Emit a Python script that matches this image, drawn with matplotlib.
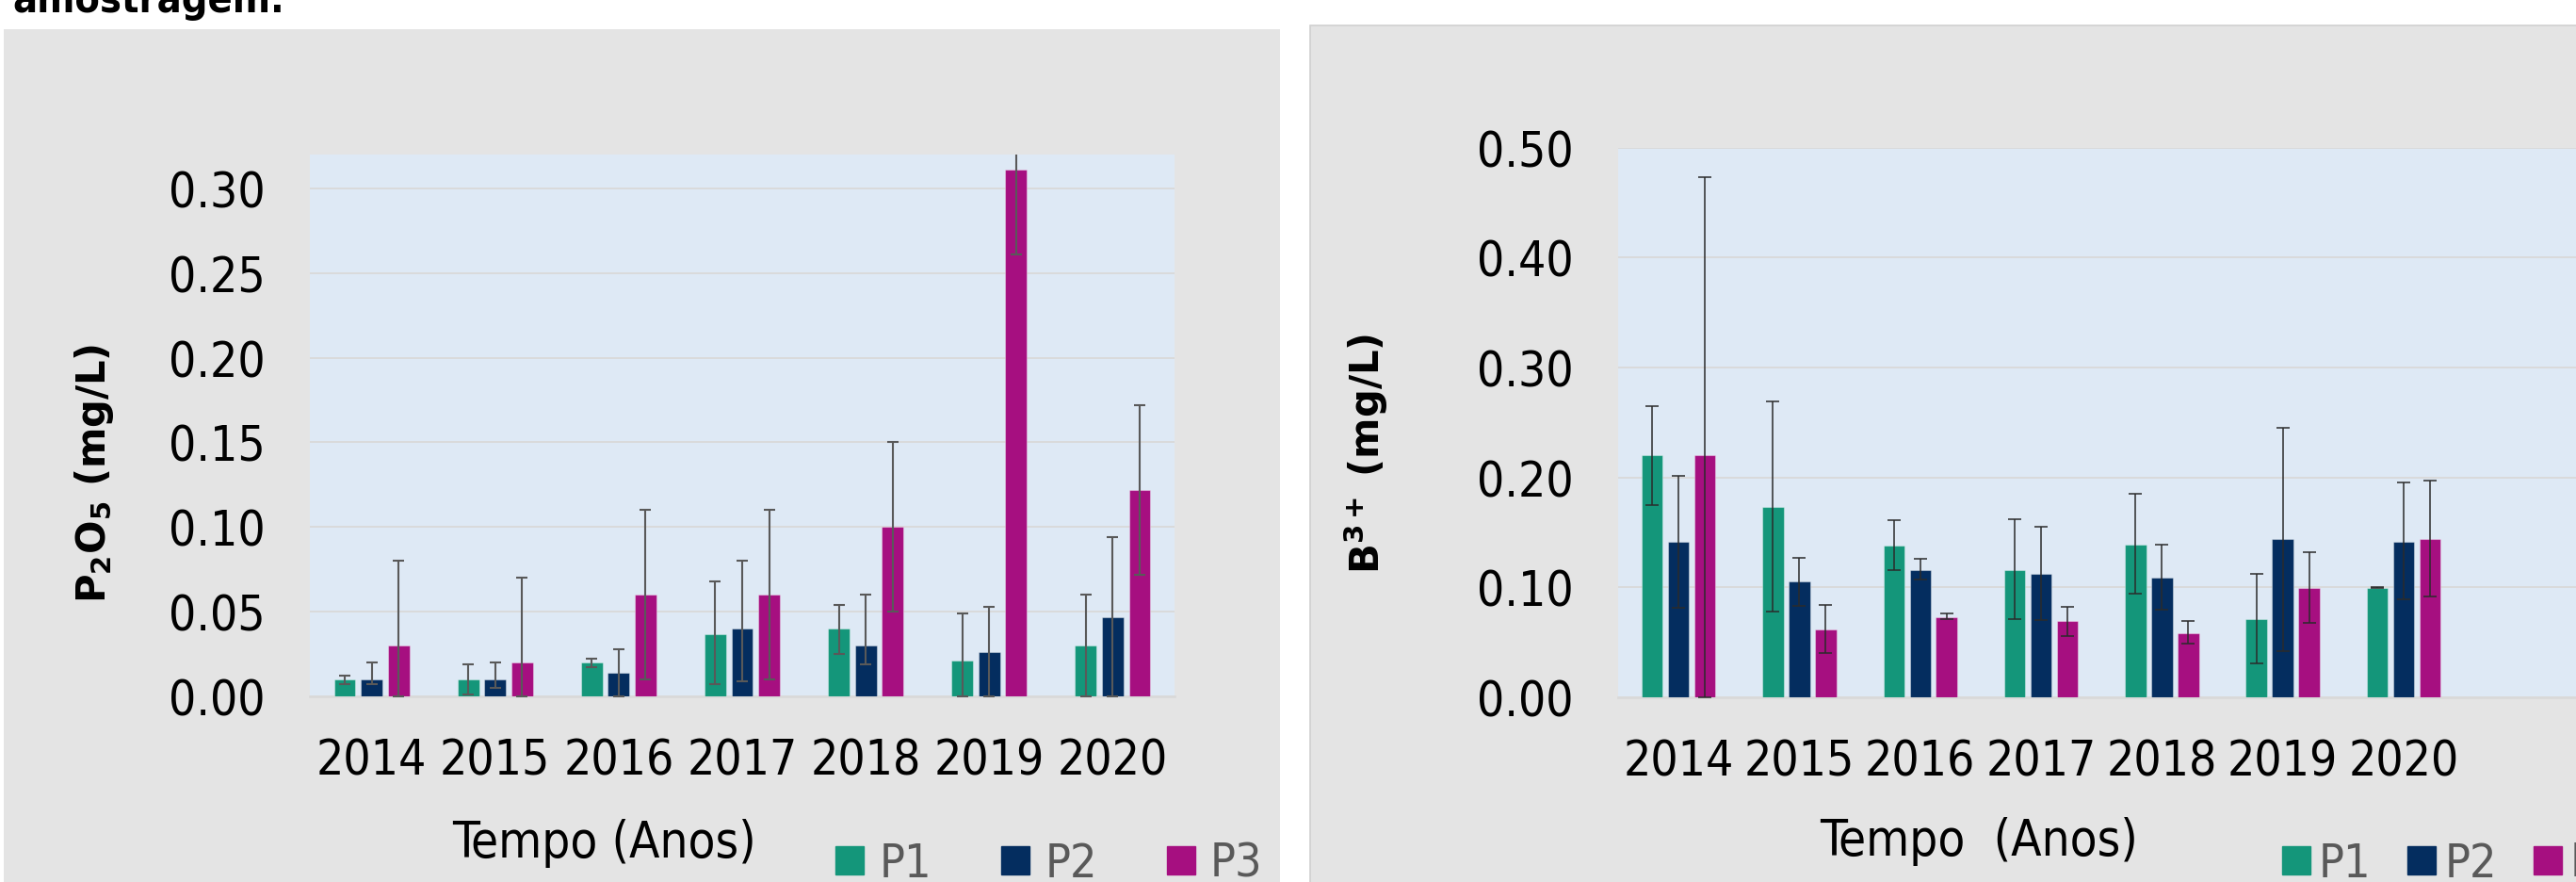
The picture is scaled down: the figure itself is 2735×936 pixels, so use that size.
import numpy as np
import matplotlib
matplotlib.use("Agg")
from matplotlib import pyplot as plt
from matplotlib import font_manager
from matplotlib.patches import Rectangle
from matplotlib.lines import Line2D

# ---- data ----
years = ['2014', '2015', '2016', '2017', '2018', '2019', '2020']
series = ['P1', 'P2', 'P3']

# P2O5 (mg/L): bar value, lower and upper end of the error bar
p2o5_p1 = [0.010, 0.010, 0.020, 0.037, 0.040, 0.021, 0.030]
p2o5_p2 = [0.010, 0.010, 0.014, 0.040, 0.030, 0.026, 0.047]
p2o5_p3 = [0.030, 0.020, 0.060, 0.060, 0.100, 0.311, 0.122]
p2o5_p1_lo = [0.007, 0.001, 0.017, 0.007, 0.025, 0.000, 0.000]
p2o5_p1_hi = [0.012, 0.019, 0.022, 0.068, 0.054, 0.049, 0.060]
p2o5_p2_lo = [0.007, 0.005, 0.000, 0.009, 0.019, 0.000, 0.000]
p2o5_p2_hi = [0.020, 0.020, 0.028, 0.080, 0.060, 0.053, 0.094]
p2o5_p3_lo = [0.000, 0.000, 0.010, 0.010, 0.050, 0.261, 0.072]
p2o5_p3_hi = [0.080, 0.070, 0.110, 0.110, 0.150, 0.361, 0.172]

# B3+ (mg/L)
b_p1 = [0.220, 0.173, 0.138, 0.116, 0.139, 0.071, 0.0995]
b_p2 = [0.141, 0.105, 0.116, 0.112, 0.109, 0.144, 0.141]
b_p3 = [0.220, 0.062, 0.073, 0.069, 0.058, 0.099, 0.144]
b_p1_lo = [0.175, 0.078, 0.116, 0.071, 0.094, 0.031, 0.099]
b_p1_hi = [0.265, 0.269, 0.161, 0.162, 0.185, 0.112, 0.100]
b_p2_lo = [0.081, 0.083, 0.107, 0.070, 0.080, 0.042, 0.089]
b_p2_hi = [0.201, 0.127, 0.126, 0.155, 0.139, 0.245, 0.195]
b_p3_lo = [0.000, 0.040, 0.071, 0.056, 0.049, 0.068, 0.092]
b_p3_hi = [0.473, 0.084, 0.076, 0.082, 0.069, 0.132, 0.197]

# ---- style ----
W, H = 2735, 937
colors = ['#14967A', '#042D5F', '#A60F80']
plot_bg = '#DEE9F5'
panel_bg = '#E4E4E4'
grid_c = '#D9D9D9'
legend_txt = '#595959'

plt.rcParams['font.family'] = 'DejaVu Sans'
plt.rcParams['mathtext.fontset'] = 'dejavusans'

# the reference uses a narrow geometric face; take a condensed DejaVu if one is installed
has_condensed = any('Condensed' in f.name or f.stretch in ('condensed', 'semi-condensed')
                    for f in font_manager.fontManager.ttflist if f.name.startswith('DejaVu Sans'))
narrow = dict(family='DejaVu Sans', stretch='condensed') if has_condensed else dict(family='DejaVu Sans')
k_size = 1.0 if has_condensed else 0.9


def narrow_font(size, weight='normal'):
    return font_manager.FontProperties(size=size * k_size, weight=weight, **narrow)


def fx(px):
    return px / W


def fy(py):
    return 1 - py / H


def px_axes(fig, left, top, right, bottom):
    return fig.add_axes([fx(left), fy(bottom), (right - left) / W, (bottom - top) / H])


def plot_bars(ax, vals, los, his, err_color, err_lw, capsize):
    x = np.arange(len(years))
    width, step = 0.175, 0.218
    for k, (v, lo, hi) in enumerate(zip(vals, los, his)):
        v = np.array(v)
        yerr = [np.clip(v - np.array(lo), 0, None), np.clip(np.array(hi) - v, 0, None)]
        ax.bar(x + (k - 1) * step, v, width, color=colors[k], zorder=3,
               edgecolor=(1, 1, 1, 0.35), linewidth=0.8,
               yerr=yerr, error_kw=dict(ecolor=err_color, elinewidth=err_lw,
                                        capsize=capsize, capthick=err_lw, zorder=4))


def style_axes(ax, ymax, ystep):
    ax.set_facecolor(plot_bg)
    for s in ['top', 'left', 'right']:
        ax.spines[s].set_visible(False)
    ax.spines['bottom'].set_color(grid_c)
    ax.spines['bottom'].set_linewidth(2)
    ax.set_ylim(0, ymax)
    ax.set_yticks(np.arange(0, ymax + 1e-9, ystep))
    ax.yaxis.set_major_formatter(plt.FormatStrFormatter('%.2f'))
    ax.grid(axis='y', color=grid_c, linewidth=1.3, zorder=0)
    ax.set_axisbelow(True)
    ax.set_xticks(np.arange(len(years)))
    ax.set_xticklabels(years)
    ax.tick_params(axis='y', length=0, pad=34)
    ax.tick_params(axis='x', length=0, pad=31)
    for lab in ax.get_xticklabels() + ax.get_yticklabels():
        lab.set_fontproperties(narrow_font(37))


def add_legend(x_px, textpad, colspace):
    handles = [Line2D([], [], marker='s', linestyle='none', markersize=21, color=c) for c in colors]
    fig.legend(handles, series, loc='center left', bbox_to_anchor=(fx(x_px), fy(917)), ncol=3,
               frameon=False, prop=narrow_font(36), labelcolor=legend_txt, handlelength=0.65,
               handletextpad=textpad, columnspacing=colspace, borderpad=0, borderaxespad=0)


fig = plt.figure(figsize=(W / 100, H / 100), dpi=100)

# grey chart panels
fig.add_artist(Rectangle((fx(4), 0), fx(1359) - fx(4), fy(32), transform=fig.transFigure,
                         facecolor=panel_bg, edgecolor='none', zorder=-2))
fig.add_artist(Rectangle((fx(1391), -0.1), 1, fy(28) + 0.1, transform=fig.transFigure,
                         facecolor=panel_bg, edgecolor='#D0D0D0', linewidth=1.2, zorder=-2))

# caption line above the charts, mostly cut off by the top edge as in the reference
fig.text(fx(13), fy(13), 'amostragem.', fontproperties=narrow_font(31, 'bold'),
         va='baseline', ha='left')

# left chart: P2O5
ax1 = px_axes(fig, 329, 165, 1247, 740)
plot_bars(ax1, [p2o5_p1, p2o5_p2, p2o5_p3],
          [p2o5_p1_lo, p2o5_p2_lo, p2o5_p3_lo],
          [p2o5_p1_hi, p2o5_p2_hi, p2o5_p3_hi],
          '#595959', 1.5, 4.5)
style_axes(ax1, 0.32, 0.05)
ax1.set_xlim(-0.5, 6.5)

fig.text(fx(100), fy(502), r'P$_\mathbf{2}$O$_\mathbf{5}$ (mg/L)', rotation=90,
         fontsize=30, fontweight='bold', ha='center', va='center')
fig.text(fx(642), fy(895), 'Tempo (Anos)', fontproperties=narrow_font(38), ha='center', va='center')
add_legend(886, 0.3, 1.45)

# right chart: B3+
cat_w = 128.3
ax2 = px_axes(fig, 1718, 157.5, 1718 + 9 * cat_w, 741)
plot_bars(ax2, [b_p1, b_p2, b_p3],
          [b_p1_lo, b_p2_lo, b_p3_lo],
          [b_p1_hi, b_p2_hi, b_p3_hi],
          '#2B2B2B', 1.1, 5)
style_axes(ax2, 0.5, 0.1)
ax2.set_xlim(-0.5, 8.5)

fig.text(fx(1450), fy(481), r'B$^\mathbf{3+}$ (mg/L)', rotation=90,
         fontsize=30, fontweight='bold', ha='center', va='center')
fig.text(fx(2101), fy(893), 'Tempo  (Anos)', fontproperties=narrow_font(38), ha='center', va='center')
add_legend(2422, 0.15, 0.75)

fig.savefig('out.png', dpi=100)
plt.close(fig)
